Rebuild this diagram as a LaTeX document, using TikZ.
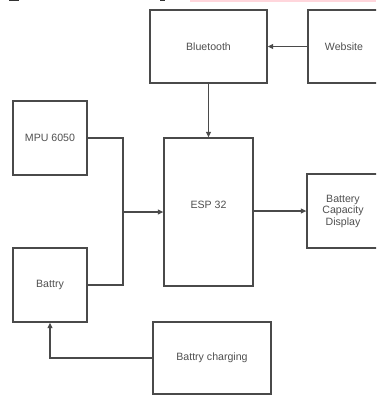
\documentclass[tikz,border=0pt]{standalone}
\usepackage{fontspec}
\setmainfont{Liberation Sans}
\usetikzlibrary{arrows.meta}
\definecolor{linegray}{HTML}{4A4A4A}
\definecolor{textgray}{HTML}{505050}
\definecolor{stripink}{HTML}{FFD6DC}
\tikzset{
  box/.style={draw=linegray, line width=1.3pt, rectangle, inner sep=0pt,
    font=\fontsize{10.6}{12}\selectfont, text=textgray, align=center},
  conn/.style={draw=linegray, line width=1.2pt},
  arr/.style={conn, -{Triangle[length=5.5pt,width=5pt]}},
}
\begin{document}
\begin{tikzpicture}[x=1pt,y=-1pt]
\clip (0,0) rectangle (376,396);
\fill[white] (0,0) rectangle (376,396);
% scan artifacts at top edge
\fill[stripink] (190,0) rectangle (376,1.6);
\fill[black!80] (9,0) rectangle (19,1.2);
\fill[black!80] (160,0) rectangle (165,1.2);
% boxes
\node[box, minimum width=117pt, minimum height=73pt] (bt) at (208.5,46.5) {Bluetooth};
\node[box, minimum width=72pt, minimum height=73pt] (web) at (344,46.5) {Website};
\node[box, minimum width=74pt, minimum height=74pt] (mpu) at (50,138) {MPU 6050};
\node[box, minimum width=89pt, minimum height=148pt] (esp) at (208.5,212) {};
\node[font=\fontsize{10.6}{12}\selectfont, text=textgray] (esptext) at (208.5,205) {ESP 32};
\node[box, minimum width=72pt, minimum height=74pt] (bcd) at (343,211) {Battery\\[-0.5pt]Capacity\\[-0.5pt]Display};
\node[box, minimum width=74pt, minimum height=74pt] (bat) at (50,285) {Battry};
\node[box, minimum width=118pt, minimum height=72pt] (chg) at (212,358) {Battry charging};
% junction
\coordinate (j) at (123,212);
% connectors
\draw[arr] (web.west) -- (bt.east);
\draw[arr] (bt.south) -- (bt.south |- esp.north);
\draw[conn] (mpu.east) -| (j);
\draw[conn] (bat.east) -| (j);
\draw[arr] (j) -- (esp.west |- j);
\draw[arr] (esp.east |- bcd.west) -- (bcd.west);
\draw[arr] (chg.west) -| (bat.south);
\end{tikzpicture}
\end{document}
